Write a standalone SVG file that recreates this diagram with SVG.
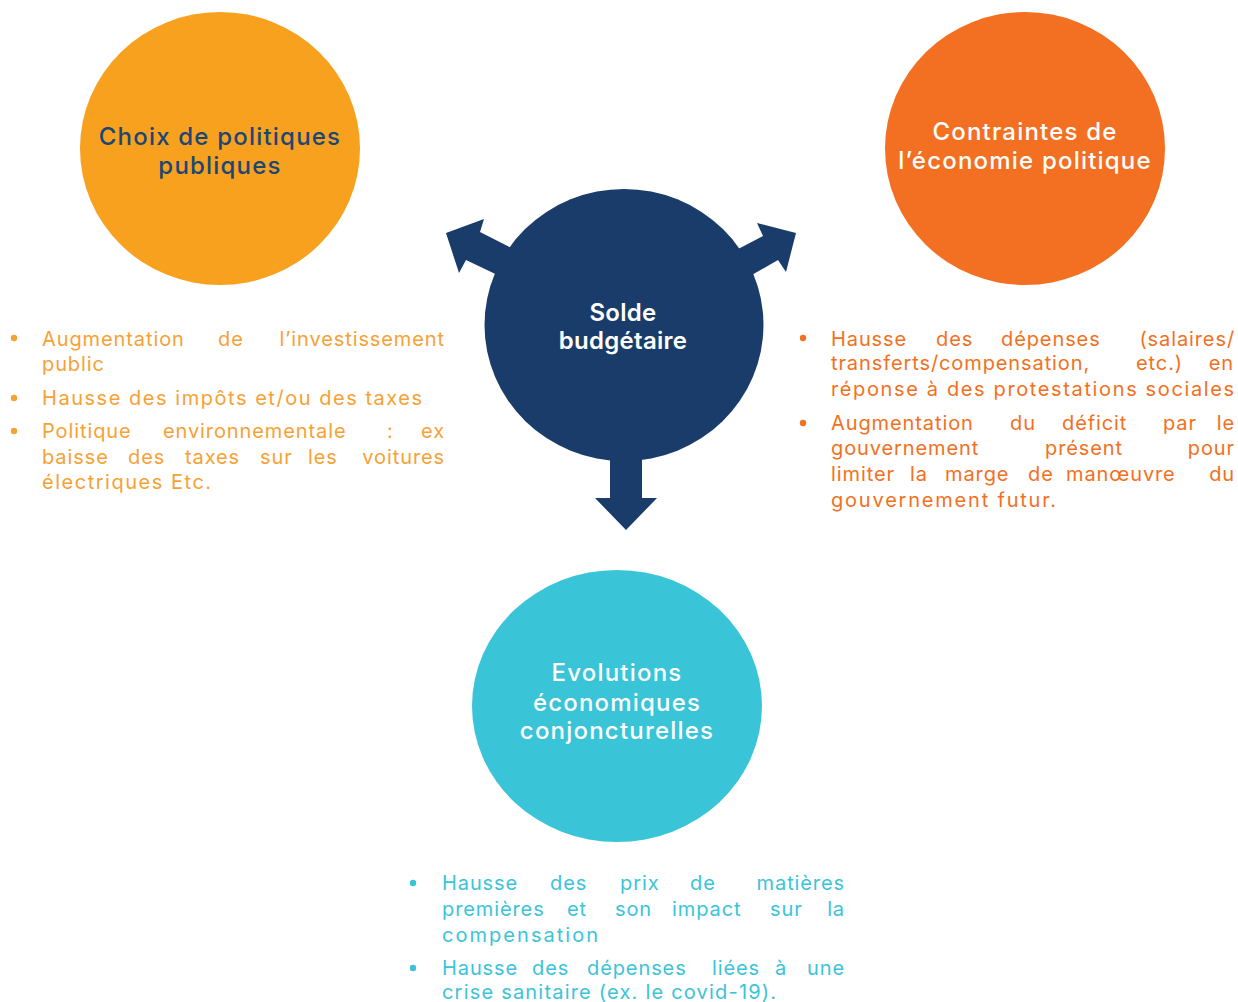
<svg xmlns="http://www.w3.org/2000/svg" width="1238" height="1002" viewBox="0 0 1238 1002">
<style>
text{font-family:Inter,"Open Sans","Liberation Sans",sans-serif}
.title{font-size:24px;font-weight:500;letter-spacing:1.2px;text-anchor:middle}
.body{font-size:20px;letter-spacing:0.9px}
.lt{fill:#F7A135}
.rt{fill:#F37021}
.bt{fill:#3BC4D8}
.e{text-anchor:end}
.navy{fill:#1C4676}
.w{fill:#ffffff}
.ctr{font-size:24px;font-weight:600;letter-spacing:0.3px;text-anchor:middle;fill:#ffffff}
</style>
<rect width="1238" height="1002" fill="#ffffff"/>
<g id="connectors" fill="#1A3C6A">
<polygon points="527,256 480,232 484,219 446,233 459,273 466,260 512,282"/>
<polygon points="721,258 763,236 757,223 796,233 786,272 778,260 736,284"/>
<polygon points="610,440 642,440 642,498 657,498 626,530 595,498 610,498"/>
</g>
<g id="node-choix">
<ellipse cx="220" cy="148.5" rx="140" ry="136.5" fill="#F7A11E"/>
<text class="title navy" x="220" y="145">Choix de politiques</text>
<text class="title navy" x="220" y="174">publiques</text>
</g>
<g id="node-contraintes">
<ellipse cx="1025" cy="148.5" rx="140" ry="136.5" fill="#F37022"/>
<text class="title w" x="1025" y="139.5">Contraintes de</text>
<text class="title w" x="1025" y="168.5">l’économie politique</text>
</g>
<g id="node-solde">
<ellipse cx="624" cy="325" rx="139.5" ry="136" fill="#1A3C6A"/>
<text class="ctr" x="623" y="321">Solde</text>
<text class="ctr" x="623" y="349">budgétaire</text>
</g>
<g id="node-evolutions">
<ellipse cx="617" cy="706" rx="145" ry="136" fill="#3AC4D8"/>
<text class="title w" x="617" y="681">Evolutions</text>
<text class="title w" x="617" y="711">économiques</text>
<text class="title w" x="617" y="739">conjoncturelles</text>
</g>
<g id="list-choix" class="body lt">
<circle cx="14" cy="338" r="3.2" fill="#F7A135"/>
<circle cx="14" cy="398" r="3.2" fill="#F7A135"/>
<circle cx="14" cy="431" r="3.2" fill="#F7A135"/>
<text y="345.5"><tspan x="42">Augmentation</tspan><tspan x="218">de</tspan><tspan x="445" class="e">l’investissement</tspan></text>
<text x="42" y="371">public</text>
<text x="42" y="405" textLength="381" lengthAdjust="spacing">Hausse des impôts et/ou des taxes</text>
<text y="438"><tspan x="42">Politique</tspan><tspan x="163">environnementale</tspan><tspan x="387">:</tspan><tspan x="445" class="e">ex</tspan></text>
<text y="463.5"><tspan x="42">baisse</tspan><tspan x="128">des</tspan><tspan x="185">taxes</tspan><tspan x="260">sur</tspan><tspan x="308">les</tspan><tspan x="445" class="e">voitures</tspan></text>
<text x="42" y="489" textLength="170" lengthAdjust="spacing">électriques Etc.</text>
</g>
<g id="list-contraintes" class="body rt">
<circle cx="803" cy="338" r="3.2" fill="#F37021"/>
<circle cx="803" cy="423" r="3.2" fill="#F37021"/>
<text y="345.5"><tspan x="831">Hausse</tspan><tspan x="936">des</tspan><tspan x="1001">dépenses</tspan><tspan x="1235" class="e">(salaires/</tspan></text>
<text y="370"><tspan x="831">transferts/compensation,</tspan><tspan x="1136">etc.)</tspan><tspan x="1234" class="e">en</tspan></text>
<text x="831" y="396" textLength="404" lengthAdjust="spacing">réponse à des protestations sociales</text>
<text y="430"><tspan x="831">Augmentation</tspan><tspan x="1010">du</tspan><tspan x="1062">déficit</tspan><tspan x="1163">par</tspan><tspan x="1235" class="e">le</tspan></text>
<text y="455"><tspan x="831">gouvernement</tspan><tspan x="1045">présent</tspan><tspan x="1235" class="e">pour</tspan></text>
<text y="481"><tspan x="831">limiter</tspan><tspan x="910">la</tspan><tspan x="945">marge</tspan><tspan x="1028">de</tspan><tspan x="1066">manœuvre</tspan><tspan x="1235" class="e">du</tspan></text>
<text x="831" y="507" textLength="226" lengthAdjust="spacing">gouvernement futur.</text>
</g>
<g id="list-evolutions" class="body bt">
<circle cx="413" cy="883" r="3.2" fill="#3BC4D8"/>
<circle cx="413" cy="968" r="3.2" fill="#3BC4D8"/>
<text y="890"><tspan x="442">Hausse</tspan><tspan x="550">des</tspan><tspan x="620">prix</tspan><tspan x="690">de</tspan><tspan x="845" class="e">matières</tspan></text>
<text y="916"><tspan x="442">premières</tspan><tspan x="567">et</tspan><tspan x="615">son</tspan><tspan x="672">impact</tspan><tspan x="770">sur</tspan><tspan x="845" class="e">la</tspan></text>
<text x="442" y="942" textLength="157" lengthAdjust="spacing">compensation</text>
<text y="975"><tspan x="442">Hausse</tspan><tspan x="532">des</tspan><tspan x="587">dépenses</tspan><tspan x="712">liées</tspan><tspan x="775">à</tspan><tspan x="845" class="e">une</tspan></text>
<text x="442" y="999" textLength="335" lengthAdjust="spacing">crise sanitaire (ex. le covid-19).</text>
</g>
</svg>
